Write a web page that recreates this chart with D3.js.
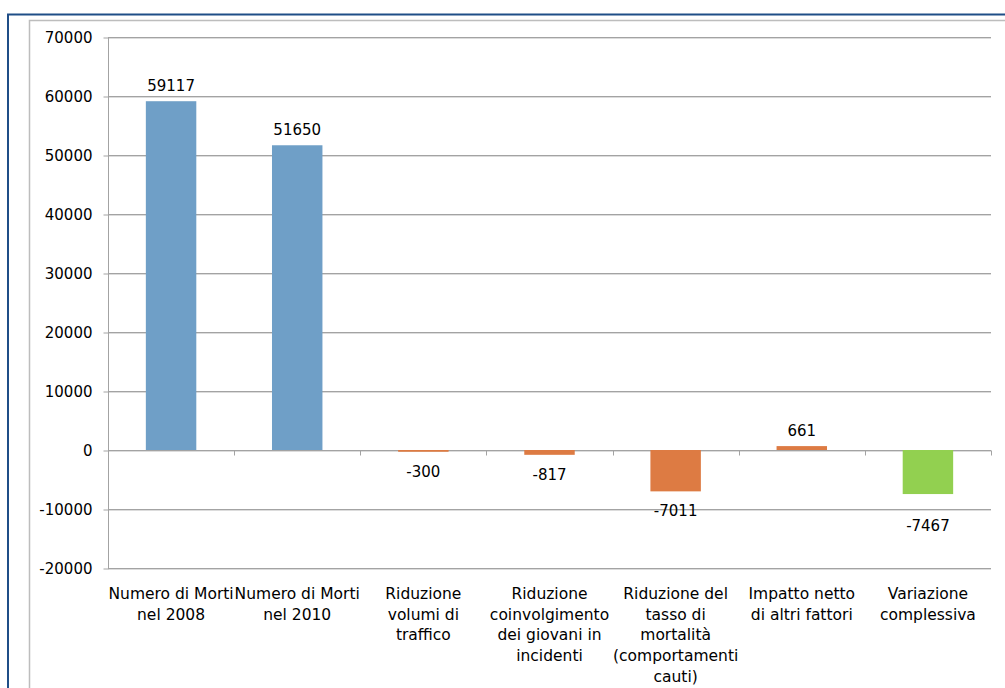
<!DOCTYPE html>
<html>
<head>
<meta charset="utf-8">
<script src="https://cdn.jsdelivr.net/npm/d3@7"></script>
<style>
  html, body { margin: 0; padding: 0; background: #fff; }
  svg { display: block; font-family: "DejaVu Sans", Verdana, sans-serif; }
</style>
</head>
<body>
<svg id="chart" width="1005" height="688"></svg>
<script>
// Categories (each entry is the wrapped label, one string per line)
const categories = [
  ["Numero di Morti", "nel 2008"],
  ["Numero di Morti", "nel 2010"],
  ["Riduzione", "volumi di", "traffico"],
  ["Riduzione", "coinvolgimento", "dei giovani in", "incidenti"],
  ["Riduzione del", "tasso di", "mortalità", "(comportamenti", "cauti)"],
  ["Impatto netto", "di altri fattori"],
  ["Variazione", "complessiva"]
];
const values = [59117, 51650, -300, -817, -7011, 661, -7467];
const barKinds = ["total", "total", "change", "change", "change", "change", "net"];
const yTicks = [-20000, -10000, 0, 10000, 20000, 30000, 40000, 50000, 60000, 70000];

// Layout / style
const colors = { total: "#6f9fc7", change: "#dd7b43", net: "#92d050" };
const labelNudge = [0, 0, 0, 0, 0, 0, 12]; // extra downward shift for value labels
const plot = { left: 108, right: 991, top: 37, bottom: 568 };

const svg = d3.select("#chart");

// Frames
svg.append("rect")
  .attr("x", 8).attr("y", 14.5).attr("width", 1020).attr("height", 700)
  .attr("fill", "none").attr("stroke", "#1f4e87").attr("stroke-width", 2);
svg.append("rect")
  .attr("x", 29.5).attr("y", 20.5).attr("width", 1000).attr("height", 700)
  .attr("fill", "none").attr("stroke", "#bdbdbd").attr("stroke-width", 1.5);

const x = d3.scaleBand()
  .domain(d3.range(categories.length))
  .range([plot.left, plot.right])
  .paddingInner(0.6).paddingOuter(0.3);

const xOuter = d3.scaleBand()
  .domain(d3.range(categories.length))
  .range([plot.left, plot.right]);

const y = d3.scaleLinear()
  .domain([-20000, 70000])
  .range([plot.bottom, plot.top]);

// Gridlines (with a soft shadow line underneath)
const grid = svg.append("g");
grid.selectAll("line.shadow").data(yTicks).join("line")
  .attr("class", "shadow")
  .attr("x1", plot.left).attr("x2", plot.right)
  .attr("y1", d => Math.round(y(d)) + 1.5).attr("y2", d => Math.round(y(d)) + 1.5)
  .attr("stroke", "#dcdcdc").attr("stroke-width", 1);
grid.selectAll("line.main").data(yTicks).join("line")
  .attr("class", "main")
  .attr("x1", plot.left).attr("x2", plot.right)
  .attr("y1", d => Math.round(y(d)) + 0.5).attr("y2", d => Math.round(y(d)) + 0.5)
  .attr("stroke", "#a3a3a3").attr("stroke-width", 1);

// Y axis
const yAxis = svg.append("g")
  .attr("transform", `translate(${plot.left + 0.5},0.5)`)
  .call(d3.axisLeft(y).tickValues(yTicks).tickSize(5).tickPadding(11).tickFormat(d => String(d)));
yAxis.select(".domain").attr("stroke", "#a3a3a3").attr("d", `M0,${Math.round(y(70000))}V${Math.round(y(-20000))}`);
yAxis.selectAll(".tick line").attr("stroke", "#a3a3a3");
yAxis.selectAll(".tick text")
  .attr("font-size", 15).attr("fill", "#000")
  .attr("font-family", "DejaVu Sans, Verdana, sans-serif");

// Category tick marks on the zero line
const zeroY = Math.round(y(0)) + 0.5;
svg.append("g").selectAll("line").data(d3.range(categories.length)).join("line")
  .attr("x1", d => Math.round(xOuter(d) + xOuter.bandwidth()) + 0.5)
  .attr("x2", d => Math.round(xOuter(d) + xOuter.bandwidth()) + 0.5)
  .attr("y1", zeroY).attr("y2", zeroY + 5)
  .attr("stroke", "#a3a3a3");

// Bars
svg.append("g").selectAll("rect").data(values).join("rect")
  .attr("x", (d, i) => x(i))
  .attr("width", x.bandwidth())
  .attr("y", d => y(Math.max(0, d)))
  .attr("height", d => Math.abs(y(d) - y(0)))
  .attr("fill", (d, i) => colors[barKinds[i]]);

// Value labels
svg.append("g").selectAll("text").data(values).join("text")
  .attr("x", (d, i) => x(i) + x.bandwidth() / 2)
  .attr("y", (d, i) => d >= 0 ? y(d) - 10 : y(d) + 25 + labelNudge[i])
  .attr("text-anchor", "middle")
  .attr("font-size", 15)
  .attr("fill", "#000")
  .text(d => String(d));

// Category labels
const catG = svg.append("g");
categories.forEach((lines, i) => {
  const t = catG.append("text")
    .attr("text-anchor", "middle")
    .attr("font-size", 15.5)
    .attr("fill", "#000");
  lines.forEach((line, j) => {
    t.append("tspan")
      .attr("x", xOuter(i) + xOuter.bandwidth() / 2)
      .attr("y", 599 + j * 20.7)
      .text(line);
  });
});
</script>
</body>
</html>
